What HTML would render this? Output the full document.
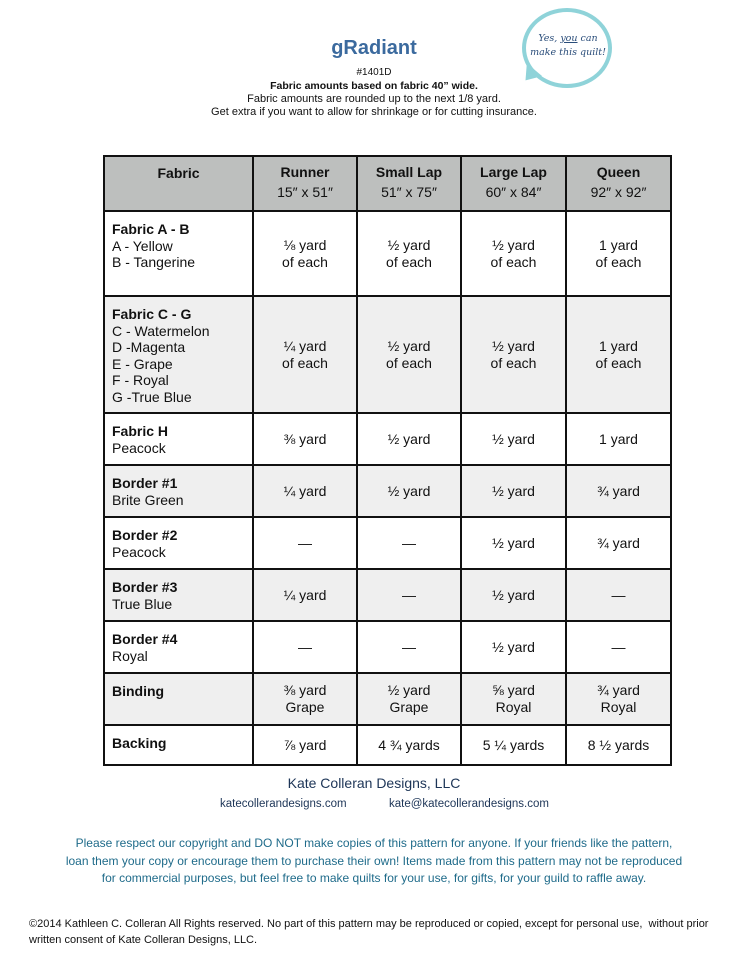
<!DOCTYPE html>
<html><head><meta charset="utf-8"><style>
*{margin:0;padding:0;box-sizing:border-box}
body{width:748px;height:961px;background:#fff;position:relative;font-family:"Liberation Sans",sans-serif;color:#111;overflow:hidden}
.a{position:absolute}
.c{text-align:center;left:0;right:0;position:absolute}
.row{position:absolute;left:104px;width:567px}
.cell{position:absolute;top:0;bottom:0;display:flex;align-items:center;justify-content:center;text-align:center;font-size:14px;line-height:17px}
.lab{position:absolute;top:10px;left:8px;font-size:14px;line-height:16.6px}
.vl{position:absolute;top:155px;width:2px;height:611px;background:#111}
.hl{position:absolute;left:103px;width:569px;height:2px;background:#111}
</style></head><body>
<div class="a" style="left:522px;top:8px;width:90px;height:80px;border:4px solid #8fd3d9;border-radius:50%;"></div>
<div class="a" style="left:520px;top:68px;width:0;height:0;border-left:10px solid transparent;border-right:10px solid transparent;border-top:14px solid #8fd3d9;transform:rotate(40deg)"></div>
<div class="a" style="left:524px;top:32px;width:88px;text-align:center;font-family:'DejaVu Serif',serif;font-style:italic;font-size:9.5px;line-height:14px;color:#2a4d7a;white-space:nowrap">Yes, <u>you</u> can<br>make this quilt!</div>
<div class="c" style="top:37px;font-size:20px;font-weight:bold;color:#3b6a9e">gRadiant</div>
<div class="c" style="top:67px;font-size:10px">#1401D</div>
<div class="c" style="top:80px;font-size:10.5px;font-weight:bold">Fabric amounts based on fabric 40” wide.</div>
<div class="c" style="top:93px;font-size:11px">Fabric amounts are rounded up to the next 1/8 yard.</div>
<div class="c" style="top:106px;font-size:11px">Get extra if you want to allow for shrinkage or for cutting insurance.</div>

<div class="row" style="top:156px;height:55px;background:#bdbfbe">
<div class="cell" style="left:0;width:149px;align-items:flex-start;padding-top:9px;font-weight:bold">Fabric</div>
<div class="cell" style="left:149px;width:104px"><div><b>Runner</b><br><span style="line-height:22px">15″ x 51″</span></div></div>
<div class="cell" style="left:253px;width:104px"><div><b>Small Lap</b><br><span style="line-height:22px">51″ x 75″</span></div></div>
<div class="cell" style="left:357px;width:105px"><div><b>Large Lap</b><br><span style="line-height:22px">60″ x 84″</span></div></div>
<div class="cell" style="left:462px;width:105px"><div><b>Queen</b><br><span style="line-height:22px">92″ x 92″</span></div></div>
</div>

<div class="row" style="top:211px;height:85px">
<div class="lab"><b>Fabric A - B</b><br>A - Yellow<br>B - Tangerine</div>
<div class="cell" style="left:149px;width:104px">⅛ yard<br>of each</div>
<div class="cell" style="left:253px;width:104px">½ yard<br>of each</div>
<div class="cell" style="left:357px;width:105px">½ yard<br>of each</div>
<div class="cell" style="left:462px;width:105px">1 yard<br>of each</div>
</div>
<div class="row" style="top:296px;height:117px;background:#efefef">
<div class="lab"><b>Fabric C - G</b><br>C - Watermelon<br>D -Magenta<br>E - Grape<br>F - Royal<br>G -True Blue</div>
<div class="cell" style="left:149px;width:104px">¼ yard<br>of each</div>
<div class="cell" style="left:253px;width:104px">½ yard<br>of each</div>
<div class="cell" style="left:357px;width:105px">½ yard<br>of each</div>
<div class="cell" style="left:462px;width:105px">1 yard<br>of each</div>
</div>
<div class="row" style="top:413px;height:52px">
<div class="lab"><b>Fabric H</b><br>Peacock</div>
<div class="cell" style="left:149px;width:104px">⅜ yard</div>
<div class="cell" style="left:253px;width:104px">½ yard</div>
<div class="cell" style="left:357px;width:105px">½ yard</div>
<div class="cell" style="left:462px;width:105px">1 yard</div>
</div>
<div class="row" style="top:465px;height:52px;background:#efefef">
<div class="lab"><b>Border #1</b><br>Brite Green</div>
<div class="cell" style="left:149px;width:104px">¼ yard</div>
<div class="cell" style="left:253px;width:104px">½ yard</div>
<div class="cell" style="left:357px;width:105px">½ yard</div>
<div class="cell" style="left:462px;width:105px">¾ yard</div>
</div>
<div class="row" style="top:517px;height:52px">
<div class="lab"><b>Border #2</b><br>Peacock</div>
<div class="cell" style="left:149px;width:104px">—</div>
<div class="cell" style="left:253px;width:104px">—</div>
<div class="cell" style="left:357px;width:105px">½ yard</div>
<div class="cell" style="left:462px;width:105px">¾ yard</div>
</div>
<div class="row" style="top:569px;height:52px;background:#efefef">
<div class="lab"><b>Border #3</b><br>True Blue</div>
<div class="cell" style="left:149px;width:104px">¼ yard</div>
<div class="cell" style="left:253px;width:104px">—</div>
<div class="cell" style="left:357px;width:105px">½ yard</div>
<div class="cell" style="left:462px;width:105px">—</div>
</div>
<div class="row" style="top:621px;height:52px">
<div class="lab"><b>Border #4</b><br>Royal</div>
<div class="cell" style="left:149px;width:104px">—</div>
<div class="cell" style="left:253px;width:104px">—</div>
<div class="cell" style="left:357px;width:105px">½ yard</div>
<div class="cell" style="left:462px;width:105px">—</div>
</div>
<div class="row" style="top:673px;height:52px;background:#efefef">
<div class="lab"><b>Binding</b></div>
<div class="cell" style="left:149px;width:104px">⅜ yard<br>Grape</div>
<div class="cell" style="left:253px;width:104px">½ yard<br>Grape</div>
<div class="cell" style="left:357px;width:105px">⅝ yard<br>Royal</div>
<div class="cell" style="left:462px;width:105px">¾ yard<br>Royal</div>
</div>
<div class="row" style="top:725px;height:40px">
<div class="lab"><b>Backing</b></div>
<div class="cell" style="left:149px;width:104px">⅞ yard</div>
<div class="cell" style="left:253px;width:104px">4 ¾ yards</div>
<div class="cell" style="left:357px;width:105px">5 ¼ yards</div>
<div class="cell" style="left:462px;width:105px">8 ½ yards</div>
</div>

<div class="vl" style="left:103px"></div><div class="vl" style="left:252px"></div><div class="vl" style="left:356px"></div><div class="vl" style="left:460px"></div><div class="vl" style="left:565px"></div><div class="vl" style="left:670px"></div>
<div class="hl" style="top:155px"></div><div class="hl" style="top:210px"></div><div class="hl" style="top:295px"></div><div class="hl" style="top:412px"></div><div class="hl" style="top:464px"></div><div class="hl" style="top:516px"></div><div class="hl" style="top:568px"></div><div class="hl" style="top:620px"></div><div class="hl" style="top:672px"></div><div class="hl" style="top:724px"></div><div class="hl" style="top:764px"></div>

<div class="c" style="top:775px;font-size:14px;color:#1d3557">Kate Colleran Designs, LLC</div>
<div class="a" style="left:220px;top:798px;font-size:11.5px;color:#1d3557">katecollerandesigns.com</div>
<div class="a" style="left:389px;top:798px;font-size:11.5px;color:#1d3557">kate@katecollerandesigns.com</div>
<div class="c" style="top:835px;font-size:12px;line-height:17.5px;color:#1f6b8a">Please respect our copyright and DO NOT make copies of this pattern for anyone. If your friends like the pattern,<br>loan them your copy or encourage them to purchase their own! Items made from this pattern may not be reproduced<br>for commercial purposes, but feel free to make quilts for your use, for gifts, for your guild to raffle away.</div>
<div class="a" style="left:29px;top:916px;font-size:11px;line-height:16px;width:730px;white-space:nowrap">©2014 Kathleen C. Colleran All Rights reserved. No part of this pattern may be reproduced or copied, except for personal use,&nbsp; without prior<br>written consent of Kate Colleran Designs, LLC.</div>
</body></html>
